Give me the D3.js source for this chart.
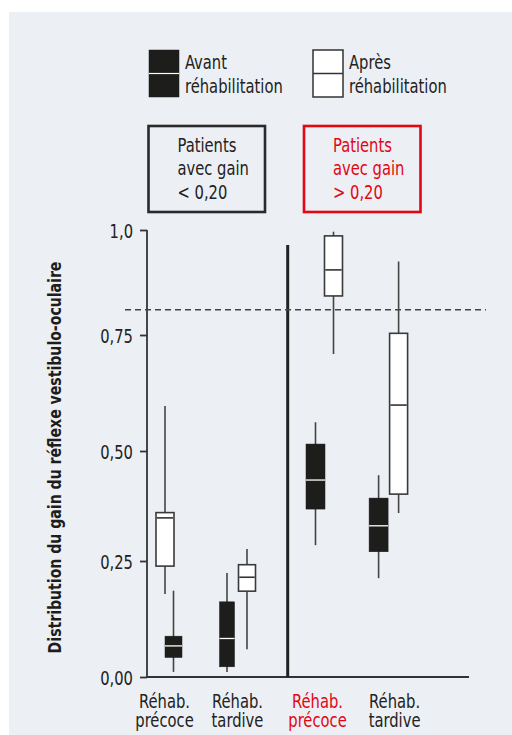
<!DOCTYPE html>
<html>
<head>
<meta charset="utf-8">
<script src="https://cdn.jsdelivr.net/npm/d3@7"></script>
<style>
  html, body { margin: 0; padding: 0; background: #ffffff; }
  svg { display: block; }
  text { font-family: "DejaVu Sans Condensed", "DejaVu Sans", sans-serif; }
</style>
</head>
<body>
<svg id="chart" width="512" height="735"></svg>
<script>
// Groups: patients with gain < 0,20 (left panel) and > 0,20 (right panel)
const groups = ["faible-precoce", "faible-tardive", "fort-precoce", "fort-tardive"];
const groupLabels = [["Réhab.", "précoce"], ["Réhab.", "tardive"], ["Réhab.", "précoce"], ["Réhab.", "tardive"]];
const groupPanel = ["faible", "faible", "fort", "fort"];

// Box statistics per group: [whisker low, Q1, median, Q3, whisker high]
const avant = [
  [0.011, 0.042, 0.067, 0.088, 0.186],
  [0.011, 0.022, 0.083, 0.162, 0.224],
  [0.286, 0.368, 0.434, 0.515, 0.562],
  [0.213, 0.271, 0.330, 0.393, 0.445]
];
const apres = [
  [0.179, 0.239, 0.348, 0.360, 0.597],
  [0.060, 0.185, 0.215, 0.242, 0.277],
  [0.709, 0.843, 0.905, 0.986, 0.996],
  [0.359, 0.402, 0.599, 0.754, 0.925]
];

// Reference threshold (dashed line)
const seuil = 0.81;

const yTicks = [0, 0.25, 0.5, 0.75, 1.0];
const yTickLabels = ["0,00", "0,25", "0,50", "0,75", "1,0"];

const RED = "#e30613";
const DARK = "#1d1d1b";
const LINE = "#333333";
const TEXT = "#222222";
const SX = 0.82; // horizontal squeeze giving a condensed face

const svg = d3.select("#chart");

// Draws (multi-line) condensed text anchored at (x, y)
function condensedText(parent, x, y, lines, opts = {}) {
  const g = parent.append("g")
    .attr("transform", `translate(${x},${y})${opts.rotate ? ` rotate(${opts.rotate})` : ""} scale(${opts.sx || SX},1)`);
  const t = g.append("text")
    .attr("font-size", opts.size || 20)
    .attr("font-weight", opts.weight || "normal")
    .attr("text-anchor", opts.anchor || "start")
    .attr("fill", opts.fill || TEXT);
  lines.forEach((s, k) => t.append("tspan").attr("x", 0).attr("y", k * (opts.lh || 0)).text(s));
  return g;
}

// panel background
svg.append("rect").attr("x", 9).attr("y", 12).attr("width", 503).attr("height", 723).attr("fill", "#eceff4");

// vertical scale (the printed axis spacing is slightly uneven)
const y = d3.scaleLinear().domain(yTicks).range([677, 561, 451, 335, 230]);

// one point scale per panel
const xLeft = d3.scalePoint().domain(["précoce", "tardive"]).range([169, 237]);
const xRight = d3.scalePoint().domain(["précoce", "tardive"]).range([324.5, 388.6]);
const groupX = (i) => (groupPanel[i] === "faible" ? xLeft : xRight)(i % 2 === 0 ? "précoce" : "tardive");

// horizontal placement of the two boxes inside each group
const boxShift = { avant: [4.5, -10, -9, -10], apres: [-4, 10, 9, 10] };
const boxWidth = { avant: [17, 15, 19, 19], apres: [18, 17, 18, 18] };
const labelShift = [-4.5, 0.5, -7, 6];

// y axis
const yAxis = d3.axisLeft(y).tickValues(yTicks).tickFormat((d, i) => yTickLabels[i]).tickSize(7).tickPadding(7);
const gy = svg.append("g").attr("transform", "translate(147,0)").call(yAxis);
gy.select(".domain").attr("stroke", LINE).attr("stroke-width", 1.8).attr("d", `M0,${y(1)}V${y(0)}`);
gy.selectAll(".tick line").attr("stroke", LINE).attr("stroke-width", 1.8);
gy.selectAll(".tick text")
  .attr("fill", TEXT).attr("font-size", 20).attr("x", 0).attr("dy", "0.36em")
  .attr("transform", `translate(-14,0) scale(${SX},1)`);

// x baseline
svg.append("line").attr("x1", 147).attr("x2", 469).attr("y1", y(0)).attr("y2", y(0))
  .attr("stroke", LINE).attr("stroke-width", 1.8);

// panel separator
svg.append("line").attr("x1", 287.7).attr("x2", 287.7).attr("y1", 245).attr("y2", y(0))
  .attr("stroke", "#222").attr("stroke-width", 3);

// threshold
svg.append("line").attr("x1", 125).attr("x2", 486).attr("y1", y(seuil)).attr("y2", y(seuil))
  .attr("stroke", "#444").attr("stroke-width", 1.6).attr("stroke-dasharray", "6,4");

// box plots
function drawBoxes(stats, kind) {
  const g = svg.append("g").attr("class", "boxes-" + kind);
  const dark = kind === "avant";
  const cx = (d, i) => groupX(i) + boxShift[kind][i];
  const w = (i) => boxWidth[kind][i];
  const items = g.selectAll("g").data(stats).join("g");
  items.append("line")
    .attr("x1", cx).attr("x2", cx)
    .attr("y1", d => y(d[4])).attr("y2", d => y(d[0]))
    .attr("stroke", "#444").attr("stroke-width", 1.6);
  items.append("rect")
    .attr("x", (d, i) => cx(d, i) - w(i) / 2).attr("width", (d, i) => w(i))
    .attr("y", d => y(d[3])).attr("height", d => y(d[1]) - y(d[3]))
    .attr("fill", dark ? DARK : "#ffffff")
    .attr("stroke", dark ? DARK : "#3a3a3a").attr("stroke-width", dark ? 0.5 : 1.6);
  items.append("line")
    .attr("x1", (d, i) => cx(d, i) - w(i) / 2 + (dark ? 0 : 0.8))
    .attr("x2", (d, i) => cx(d, i) + w(i) / 2 - (dark ? 0 : 0.8))
    .attr("y1", d => y(d[2])).attr("y2", d => y(d[2]))
    .attr("stroke", dark ? "#ffffff" : "#333").attr("stroke-width", dark ? 1.3 : 1.6);
}
drawBoxes(apres, "apres");
drawBoxes(avant, "avant");

// category labels
groups.forEach((gname, i) => {
  condensedText(svg, groupX(i) + labelShift[i], 708, groupLabels[i],
    { anchor: "middle", lh: 19, fill: i === 2 ? RED : TEXT });
});

// y axis title
condensedText(svg, 61, 457.5, ["Distribution du gain du réflexe vestibulo-oculaire"],
  { rotate: -90, anchor: "middle", size: 18, weight: "bold", sx: 0.87, fill: DARK });

// legend
const legend = [
  { x: 149, dark: true, lines: ["Avant", "réhabilitation"] },
  { x: 313, dark: false, lines: ["Après", "réhabilitation"] }
];
legend.forEach(l => {
  svg.append("rect").attr("x", l.x).attr("y", 50).attr("width", 30).attr("height", 47)
    .attr("fill", l.dark ? DARK : "#ffffff").attr("stroke", l.dark ? DARK : "#333").attr("stroke-width", l.dark ? 0.5 : 1.5);
  svg.append("line").attr("x1", l.x).attr("x2", l.x + 30).attr("y1", 73.5).attr("y2", 73.5)
    .attr("stroke", l.dark ? "#ffffff" : "#333").attr("stroke-width", l.dark ? 1.2 : 1.5);
  condensedText(svg, l.x + 36, 69, l.lines, { lh: 24 });
});

// panel caption boxes
const captions = [
  { x: 148.5, color: "#2a2a2a", text: TEXT, lines: ["Patients", "avec gain", "< 0,20"] },
  { x: 304, color: RED, text: RED, lines: ["Patients", "avec gain", "> 0,20"] }
];
captions.forEach(c => {
  svg.append("rect").attr("x", c.x).attr("y", 126).attr("width", 116.5).attr("height", 86)
    .attr("fill", "none").attr("stroke", c.color).attr("stroke-width", 2.6);
  condensedText(svg, c.x + 29, 152, c.lines, { lh: 23.3, fill: c.text });
});
</script>
</body>
</html>
